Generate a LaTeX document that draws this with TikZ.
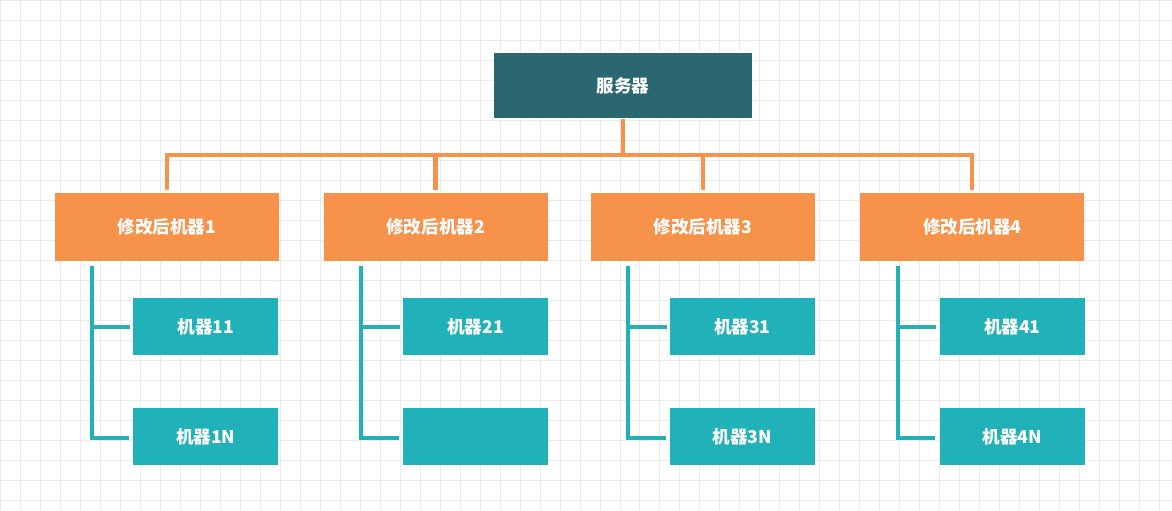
\documentclass[tikz,border=0pt]{standalone}
\usepackage{fontspec}
\setmainfont{Noto Sans CJK SC}
\usetikzlibrary{positioning, calc}
\definecolor{serverc}{HTML}{2B6771}
\definecolor{groupc}{HTML}{F7924A}
\definecolor{machc}{HTML}{21B1B8}
\definecolor{gridc}{HTML}{EBEBEB}

\begin{document}
\begin{tikzpicture}[
    x=0.02cm, y=-0.02cm,
    % Styles
    box/.style={ % generic box
        rectangle,
        inner sep=0pt,
        text=white,
        font=\bfseries\fontsize{10}{12}\selectfont
    },
    server/.style={ % top node
        box,
        fill=serverc,
        minimum width=5.16cm,
        minimum height=1.3cm
    },
    group/.style={ % modified machines
        box,
        fill=groupc,
        minimum width=4.48cm,
        minimum height=1.36cm
    },
    machine/.style={ % machines below
        box,
        fill=machc,
        minimum width=2.9cm,
        minimum height=1.14cm
    },
    olink/.style={ % orange connector
        draw=groupc,
        line width=2.4pt
    },
    tlink/.style={ % teal connector
        draw=machc,
        line width=2.4pt
    }
]

    % Background grid
    \fill[white] (0,0) rectangle (1172,510);
    \draw[gridc, line width=0.4pt, step=0.4cm] (0,0) grid (1172,510);
    \useasboundingbox (0,0) rectangle (1172,510);

    % Server
    \node[server] (srv) at (623,85.5) {服务器};

    % Groups and machines
    \foreach \i/\x/\m in {1/166.5/205.5, 2/435.5/475.5, 3/703/742.5, 4/972.5/1012.5} {
        \node[group] (g\i) at (\x,227) {修改后机器\i};
        \node[machine] (m\i1) at (\m,326.5) {机器\i1};
    }
    \node[machine] (m1N) at (205.5,436.5) {机器1N};
    \node[machine] (m2N) at (475.5,436.5) {};
    \node[machine] (m3N) at (742.5,436.5) {机器3N};
    \node[machine] (m4N) at (1012.5,436.5) {机器4N};

    % Bus from server
    \coordinate (bus) at (623,155);
    \draw[olink] (srv.south) -- (bus);
    \draw[olink] ($(g1.north)+(0,-3)$) |- ($(g4.north)+(0,-38)$) -- ($(g4.north)+(0,-3)$);
    \foreach \i in {2, 3} {
        \draw[olink] ($(g\i.north)+(0,-3)$) -- ($(g\i.north)+(0,-38)$);
    }

    % Trunks to machines
    \foreach \i/\t in {1/92, 2/361, 3/628, 4/898} {
        \coordinate (t\i) at (\t,266);
        \draw[tlink] (t\i) |- ($(m\i N.west)+(-4,1.5)$);
        \draw[tlink] (t\i |- m\i1.west) -- ($(m\i1.west)+(-3,0)$);
    }
\end{tikzpicture}
\end{document}
